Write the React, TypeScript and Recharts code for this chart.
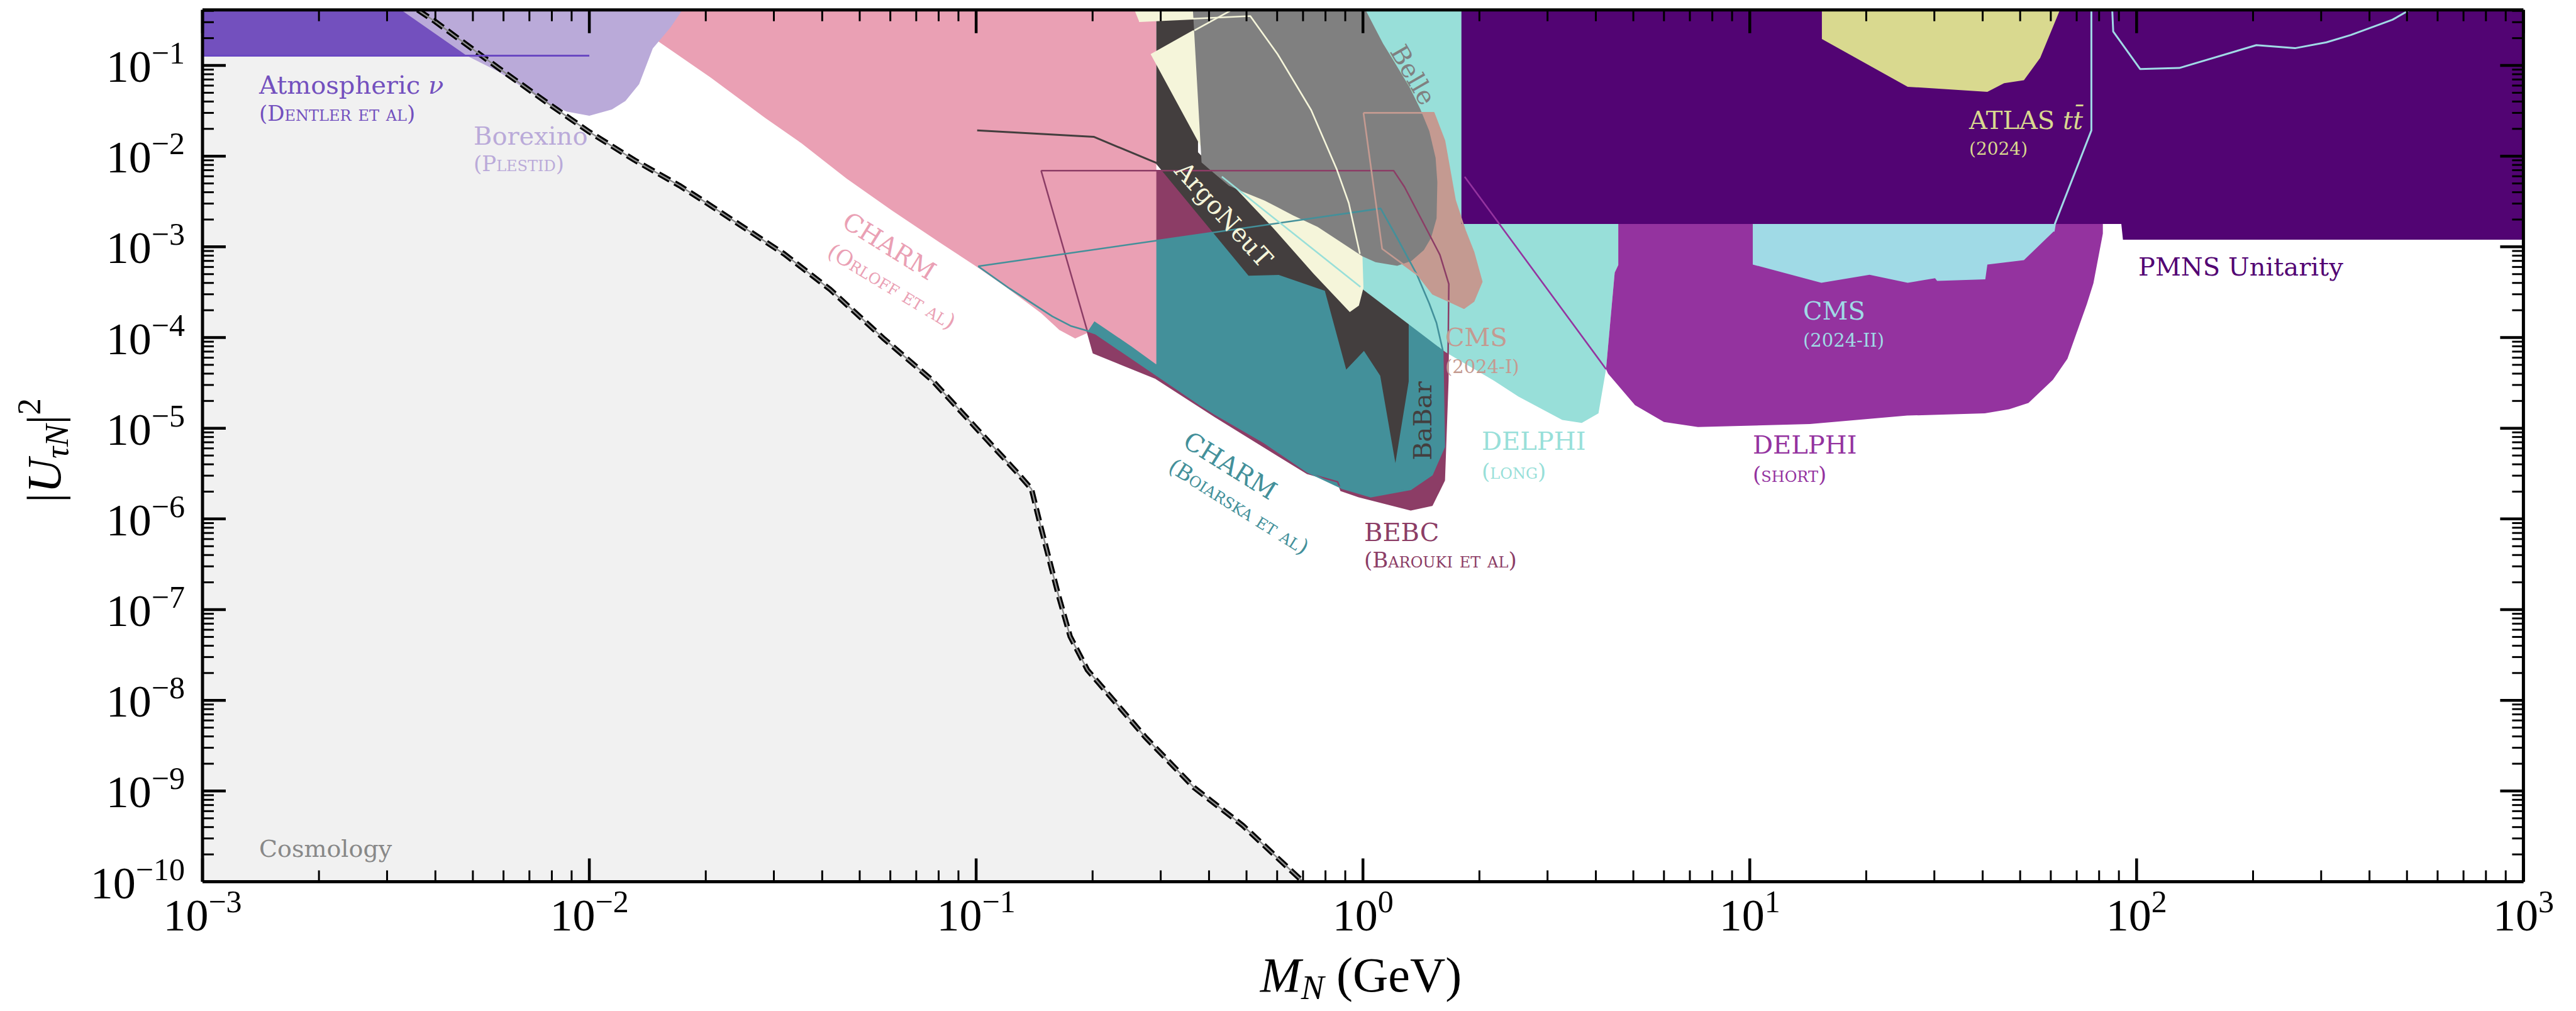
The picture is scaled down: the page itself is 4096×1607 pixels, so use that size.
import React from 'react';
import { ComposedChart, Scatter, XAxis, YAxis } from 'recharts';

// ---------------- data (M_N in GeV, |U_tauN|^2) ----------------
const cosmoCurveX = [0.0036, 0.00399, 0.00582, 0.00783, 0.01, 0.0131, 0.0171, 0.0196, 0.0319, 0.0419, 0.0575, 0.0769, 0.0968, 0.1274, 0.139, 0.147, 0.163, 0.175, 0.194, 0.274, 0.366, 0.489, 0.7];
const cosmoCurveY = [0.41, 0.306, 0.0938, 0.0381, 0.0185, 0.00902, 0.00474, 0.00327, 8.35e-4, 3.4e-4, 9.86e-5, 3.39e-5, 1.17e-5, 3.27e-6, 2.14e-6, 8.15e-7, 1.47e-7, 5.06e-8, 2.16e-8, 3.91e-9, 1.09e-9, 4.17e-10, 1.0e-10];

const atmX = [0.001, 0.0102, 0.0102, 0.001];
const atmY = [0.41, 0.41, 0.128, 0.128];
const atmLineX = [0.001, 0.01];
const atmLineY = [0.128, 0.128];

const borexX = [0.00326, 0.00482, 0.00582, 0.00762, 0.00873, 0.01, 0.01144, 0.0124, 0.01345, 0.01459, 0.01622, 0.0174];
const borexY = [0.41, 0.128, 0.0857, 0.0406, 0.031, 0.0279, 0.0327, 0.0406, 0.0622, 0.154, 0.263, 0.41];

const charmOX = [0.01085, 0.01477, 0.02059, 0.02845, 0.03532, 0.04628, 0.06056, 0.0802, 0.1009, 0.1202, 0.1472, 0.1641, 0.1803, 0.1927, 0.2022, 0.2528, 0.2914, 0.2923, 0.2923];
const charmOY = [0.41, 0.1954, 0.07345, 0.0265, 0.01391, 5.64e-3, 2.52e-3, 1.13e-3, 5.93e-4, 3.54e-4, 1.86e-4, 1.21e-4, 9.76e-5, 1.11e-4, 1.51e-4, 7.91e-5, 5.1e-5, 5.1e-5, 0.41];

const bebcX = [0.1472, 1.2, 1.28, 1.484, 1.581, 1.667, 1.657, 1.622, 1.508, 1.329, 0.976, 0.878, 0.86, 0.717, 0.4139, 0.2914, 0.201, 0.1943];
const bebcY = [6.93e-3, 6.93e-3, 4.59e-3, 1.374e-3, 8.16e-4, 3.89e-4, 3.33e-5, 2.67e-6, 1.416e-6, 1.262e-6, 1.763e-6, 2.058e-6, 2.564e-6, 3.19e-6, 1.352e-5, 3.56e-5, 6.78e-5, 1.135e-4];

const charmBX = [0.1012, 1.111, 1.226, 1.377, 1.484, 1.549, 1.607, 1.622, 1.508, 1.329, 1.046, 0.886, 0.717, 0.5565, 0.4139, 0.3791, 0.2034, 0.1943, 0.1754, 0.1574, 0.1219];
const charmBY = [6.11e-4, 2.65e-3, 1.253e-3, 5.0e-4, 2.37e-4, 1.449e-4, 7.35e-5, 6.24e-6, 3.07e-6, 2.126e-6, 1.763e-6, 2.17e-6, 3.32e-6, 6.92e-6, 1.44e-5, 1.82e-5, 1.107e-4, 1.184e-4, 1.346e-4, 1.714e-4, 3.48e-4];

const babarX = [0.2923, 0.2923, 0.506, 0.6056, 0.797, 0.905, 1.006, 1.108, 1.213, 1.313, 1.313, 1.046, 0.4317, 0.3746, 0.3746];
const babarY = [0.41, 8.2e-3, 4.81e-4, 4.9e-4, 3.27e-4, 4.43e-5, 7.13e-5, 3.79e-5, 4.13e-6, 3.29e-5, 1.449e-4, 3.4e-4, 5.94e-3, 0.01104, 0.41];
const babarLineX = [0.1006, 0.2013, 0.2977];
const babarLineY = [0.0192, 0.01634, 8.16e-3];

const delphiLX = [0.4317, 4.571, 4.571, 4.475, 4.25, 4.063, 3.678, 3.275, 2.521, 2.183, 1.637, 1.003, 0.4317];
const delphiLY = [0.41, 0.41, 6.3e-4, 5.2e-4, 4.49e-5, 1.462e-5, 1.143e-5, 1.236e-5, 2.236e-5, 3.33e-5, 6.86e-5, 3.35e-4, 5.94e-3];
const delphiLLineX = [0.4317, 0.985];
const delphiLLineY = [5.94e-3, 3.62e-4];

const argoX = [0.2825, 0.3634, 0.4628, 0.997, 1.003, 0.976, 0.9245, 0.745, 0.584, 0.4712, 0.3791];
const argoY = [0.1333, 0.2433, 0.2433, 7.95e-4, 3.53e-4, 2.25e-4, 1.914e-4, 5.06e-4, 1.637e-3, 4.31e-3, 0.01321];
const argoTopX = [0.2566, 0.5113, 0.5113, 0.3634, 0.2637];
const argoTopY = [0.41, 0.41, 0.3506, 0.327, 0.307];
const argoLineX = [0.2637, 0.5113, 0.6018, 0.7347, 0.855, 0.919, 0.982];
const argoLineY = [0.307, 0.3506, 0.1328, 0.0322, 7.21e-3, 3.04e-3, 8.38e-4];
const argoLine2X = [0.3667, 0.4531];
const argoLine2Y = [0.2433, 0.399];

const cms1X = [1.003, 1.524, 1.624, 1.73, 1.836, 1.932, 2.028, 1.932, 1.825, 1.687, 1.516, 1.392, 1.121];
const cms1Y = [0.03, 0.03, 0.01476, 3.26e-3, 1.515e-3, 8.7e-4, 4.13e-4, 2.52e-4, 2.11e-4, 2.46e-4, 3.03e-4, 4.82e-4, 9.52e-4];

const belleX = [0.3634, 0.3826, 0.4102, 0.4502, 0.4901, 0.5565, 0.659, 0.764, 0.849, 0.997, 1.078, 1.226, 1.335, 1.437, 1.4998, 1.55, 1.557, 1.541, 1.484, 1.407, 1.32, 1.2, 1.127, 1.069, 1.0153];
const belleY = [0.41, 8.52e-3, 6.59e-3, 4.71e-3, 4.04e-3, 3.24e-3, 2.23e-3, 1.658e-3, 1.233e-3, 7.85e-4, 6.77e-4, 6.17e-4, 6.99e-4, 9.21e-4, 1.253e-3, 2.064e-3, 5.18e-3, 9.57e-3, 0.01895, 0.033, 0.0574, 0.1129, 0.174, 0.2678, 0.41];

const delphiSX = [4.571, 81.8, 81.8, 77.33, 74.35, 66.25, 60.75, 52.54, 46.83, 40.51, 25.52, 14.3, 7.346, 6.0, 5.05, 4.3, 4.25, 4.475, 4.571];
const delphiSY = [2.0e-3, 2.0e-3, 1.4e-3, 3.96e-4, 2.335e-4, 5.84e-5, 3.42e-5, 1.9e-5, 1.62e-5, 1.462e-5, 1.378e-5, 1.114e-5, 1.031e-5, 1.173e-5, 1.796e-5, 4.01e-5, 4.49e-5, 5.2e-4, 6.3e-4];
const delphiSLineX = [1.832, 4.25];
const delphiSLineY = [5.93e-3, 4.49e-5];

const cms2X = [10.18, 61.47, 61.0, 51.13, 41.13, 40.63, 30.5, 30.13, 25.6, 20.4, 15.31, 10.18];
const cms2Y = [2.0e-3, 2.0e-3, 1.476e-3, 7.13e-4, 6.38e-4, 4.39e-4, 4.22e-4, 4.51e-4, 4.01e-4, 4.93e-4, 4.01e-4, 6.38e-4];
const cms2LineAX = [61.0, 61.47, 76.4, 76.4];
const cms2LineAY = [1.476e-3, 1.79e-3, 0.0192, 0.41];
const cms2LineBX = [86.5, 87.0, 102.1, 128.9, 204.0, 256.7, 309.6, 357.9, 458.5, 508.2];
const cms2LineBY = [0.41, 0.237, 0.0914, 0.0937, 0.1675, 0.155, 0.1798, 0.2168, 0.319, 0.41];

const pmnsX = [1.797, 1000, 1000, 92.2, 91.3, 1.797];
const pmnsY = [0.41, 0.41, 1.2e-3, 1.2e-3, 1.79e-3, 1.79e-3];

const atlasX = [15.36, 15.36, 25.6, 41.13, 45.44, 51.13, 56.33, 63.36];
const atlasY = [0.41, 0.1956, 0.0582, 0.0512, 0.0637, 0.0688, 0.1213, 0.41];

const xMajorTicks = [1e-3, 1e-2, 1e-1, 1, 10, 100, 1000];
const yMajorTicks = [1e-10, 1e-9, 1e-8, 1e-7, 1e-6, 1e-5, 1e-4, 1e-3, 1e-2, 1e-1];
const minorSteps = [2, 3, 4, 5, 6, 7, 8, 9];

// ---------------- styling ----------------
const C = {
  cosmo: '#f1f1f1',
  atm: '#7350be',
  atmLine: '#6a48c2',
  borex: '#baaad9',
  pink: '#eaa0b4',
  bebc: '#8c3d66',
  teal: '#43909a',
  babar: '#433e3e',
  turq: '#98dfd9',
  argo: '#f5f5da',
  cms1: '#c49a91',
  belle: '#808080',
  delphiS: '#94339f',
  cms2: '#a0dae6',
  pmns: '#520473',
  atlas: '#d9d98f',
};

const W = 4080;
const H = 1591;
const MARGIN = { top: 5.7, right: 73.6, bottom: 97.5, left: 214 };
const X_DOMAIN: [number, number] = [1e-3, 1e3];
const Y_DOMAIN: [number, number] = [1e-10, 0.41];
const TICK_FONT = '"Liberation Serif", "DejaVu Serif", serif';
const LABEL_FONT = '"DejaVu Serif", "Liberation Serif", serif';

const xTicks = xMajorTicks.flatMap((m) => [m, ...minorSteps.map((s) => s * m)]).filter((v) => v <= X_DOMAIN[1] * 1.0001);
const yTicks = yMajorTicks.flatMap((m) => [m, ...minorSteps.map((s) => s * m)]).filter((v) => v <= Y_DOMAIN[1]);

type Pt = { x: number; y: number };
const zip = (xs: number[], ys: number[], close = false): Pt[] => {
  const pts = xs.map((x, i) => ({ x, y: ys[i] }));
  if (close) pts.push({ ...pts[0] });
  return pts;
};

const fills = [
  { id: 'cosmo', pts: zip([0.001, ...cosmoCurveX, 0.001], [0.41, ...cosmoCurveY, 1e-10]), color: C.cosmo },
  { id: 'bebc', pts: zip(bebcX, bebcY), color: C.bebc },
  { id: 'charmB', pts: zip(charmBX, charmBY), color: C.teal },
  { id: 'charmO', pts: zip(charmOX, charmOY), color: C.pink },
  { id: 'atm', pts: zip(atmX, atmY), color: C.atm },
  { id: 'borex', pts: zip(borexX, borexY), color: C.borex },
  { id: 'babar', pts: zip(babarX, babarY), color: C.babar },
  { id: 'delphiL', pts: zip(delphiLX, delphiLY), color: C.turq },
  { id: 'argo', pts: zip(argoX, argoY), color: C.argo },
  { id: 'argoTop', pts: zip(argoTopX, argoTopY), color: C.argo },
  { id: 'cms1', pts: zip(cms1X, cms1Y), color: C.cms1 },
  { id: 'belle', pts: zip(belleX, belleY), color: C.belle },
  { id: 'delphiS', pts: zip(delphiSX, delphiSY), color: C.delphiS },
  { id: 'cms2', pts: zip(cms2X, cms2Y), color: C.cms2 },
  { id: 'pmns', pts: zip(pmnsX, pmnsY), color: C.pmns },
  { id: 'atlas', pts: zip(atlasX, atlasY), color: C.atlas },
];

const lines = [
  { id: 'cosmoDash', pts: zip(cosmoCurveX, cosmoCurveY), color: '#000', w: 8.5, dash: '20 9' },
  { id: 'cosmoCore', pts: zip(cosmoCurveX, cosmoCurveY), color: '#8c8c8c', w: 2.4 },
  { id: 'atmLine', pts: zip(atmLineX, atmLineY), color: C.atmLine, w: 3 },
  { id: 'babarLine', pts: zip(babarLineX, babarLineY), color: C.babar, w: 3 },
  { id: 'bebcLine', pts: zip(bebcX, bebcY, true), color: C.bebc, w: 2.5 },
  { id: 'charmBLine', pts: zip(charmBX, charmBY, true), color: C.teal, w: 2.6 },
  { id: 'argoLine', pts: zip(argoLineX, argoLineY), color: C.argo, w: 2.6 },
  { id: 'argoLine2', pts: zip(argoLine2X, argoLine2Y), color: C.argo, w: 2.6 },
  { id: 'delphiLLine', pts: zip(delphiLLineX, delphiLLineY), color: C.turq, w: 2.6 },
  { id: 'cms1Line', pts: zip(cms1X, cms1Y, true), color: C.cms1, w: 2.6 },
  { id: 'delphiSLine', pts: zip(delphiSLineX, delphiSLineY), color: C.delphiS, w: 2.6 },
  { id: 'cms2LineA', pts: zip(cms2LineAX, cms2LineAY), color: C.cms2, w: 3 },
  { id: 'cms2LineB', pts: zip(cms2LineBX, cms2LineBY), color: C.cms2, w: 3 },
];

const NoDot = () => <g />;

const isMajor = (v: number) => Math.abs(Math.log10(v) - Math.round(Math.log10(v))) < 1e-6;
const expText = (v: number) => {
  const e = Math.round(Math.log10(v));
  return e < 0 ? '\u2212' + Math.abs(e) : String(e);
};

const MAJ = 37;
const MIN = 18;

const BottomTick = (p: any) => {
  const { x, y, payload } = p;
  const major = isMajor(payload.value);
  return (
    <g>
      <line x1={x} y1={y} x2={x} y2={y - (major ? MAJ : MIN)} stroke="#000" strokeWidth={major ? 4.5 : 3} />
      {major && (
        <text x={x} y={y + 77} textAnchor="middle" fontFamily={TICK_FONT} fontSize={72} fill="#000">
          10
          <tspan dy={-29} fontSize={50}>
            {expText(payload.value)}
          </tspan>
        </text>
      )}
    </g>
  );
};

const TopTick = (p: any) => {
  const { x, y, payload } = p;
  const major = isMajor(payload.value);
  return <line x1={x} y1={y} x2={x} y2={y + (major ? MAJ : MIN)} stroke="#000" strokeWidth={major ? 4.5 : 3} />;
};

const LeftTick = (p: any) => {
  const { x, y, payload } = p;
  const major = isMajor(payload.value);
  return (
    <g>
      <line x1={x} y1={y} x2={x + (major ? MAJ : MIN)} y2={y} stroke="#000" strokeWidth={major ? 4.5 : 3} />
      {major && (
        <text x={x - 28} y={y + 26} textAnchor="end" fontFamily={TICK_FONT} fontSize={72} fill="#000">
          10
          <tspan dy={-29} fontSize={50}>
            {expText(payload.value)}
          </tspan>
        </text>
      )}
    </g>
  );
};

const RightTick = (p: any) => {
  const { x, y, payload } = p;
  const major = isMajor(payload.value);
  return <line x1={x} y1={y} x2={x - (major ? MAJ : MIN)} y2={y} stroke="#000" strokeWidth={major ? 4.5 : 3} />;
};

const sc: React.CSSProperties = { fontVariant: 'small-caps' };

function Labels() {
  const L = (props: any) => <text fontFamily={LABEL_FONT} dominantBaseline="central" {...props} />;
  const R = (x: number, y: number, a: number) => `rotate(${a} ${x} ${y})`;
  return (
    <svg width={W} height={H} style={{ position: 'absolute', left: 0, top: 0, pointerEvents: 'none' }}>
      <L x={404} y={127} fontSize={40} fill={C.atm}>
        Atmospheric <tspan fontStyle="italic">ν</tspan>
      </L>
      <L x={404} y={172} fontSize={34} fill={C.atm} style={sc}>(Dentler et al)</L>
      <L x={745} y={208} fontSize={40} fill={C.borex}>Borexino</L>
      <L x={745} y={252} fontSize={34} fill={C.borex} style={sc}>(Plestid)</L>

      <L x={1406} y={383} fontSize={40} fill={C.pink} textAnchor="middle" transform={R(1406, 383, 32)}>CHARM</L>
      <L x={1410} y={447} fontSize={34} fill={C.pink} textAnchor="middle" transform={R(1410, 447, 31)} style={sc}>(Orloff et al)</L>

      <L x={1948} y={732} fontSize={40} fill={C.teal} textAnchor="middle" transform={R(1948, 732, 32)}>CHARM</L>
      <L x={1962} y={797} fontSize={34} fill={C.teal} textAnchor="middle" transform={R(1962, 797, 32)} style={sc}>(Boiarska et al)</L>

      <L x={1938} y={333} fontSize={40} fill={C.argo} textAnchor="middle" transform={R(1938, 333, 48)}>ArgoNeuT</L>
      <L x={2239} y={111} fontSize={40} fill={C.belle} textAnchor="middle" transform={R(2239, 111, 60)}>Belle</L>
      <L x={2254} y={661} fontSize={40} fill={C.babar} textAnchor="middle" transform={R(2254, 661, -90)}>BaBar</L>

      <L x={2290} y={528} fontSize={40} fill={C.cms1}>CMS</L>
      <L x={2290} y={575} fontSize={29} fill={C.cms1}>(2024-I)</L>

      <L x={2348} y={693} fontSize={40} fill={C.turq}>DELPHI</L>
      <L x={2348} y={741} fontSize={34} fill={C.turq} style={sc}>(long)</L>

      <L x={2779} y={699} fontSize={40} fill={C.delphiS}>DELPHI</L>
      <L x={2779} y={746} fontSize={34} fill={C.delphiS} style={sc}>(short)</L>

      <L x={2859} y={486} fontSize={40} fill={C.cms2}>CMS</L>
      <L x={2859} y={533} fontSize={29} fill={C.cms2}>(2024-II)</L>

      <L x={3123} y={183} fontSize={40} fill={C.atlas}>
        ATLAS <tspan fontStyle="italic">t{'t\u0304'}</tspan>
      </L>
      <L x={3123} y={228} fontSize={28} fill={C.atlas}>(2024)</L>

      <L x={3392} y={416} fontSize={40} fill={C.pmns}>PMNS Unitarity</L>

      <L x={2161} y={838} fontSize={40} fill={C.bebc}>BEBC</L>
      <L x={2161} y={882} fontSize={34} fill={C.bebc} style={sc}>(Barouki et al)</L>

      <L x={404} y={1341} fontSize={38} fill="#888888">Cosmology</L>

      {/* axis titles */}
      <text x={2156} y={1568} textAnchor="middle" fontFamily={TICK_FONT} fontSize={78} fill="#000">
        <tspan fontStyle="italic">M</tspan>
        <tspan fontStyle="italic" fontSize={55} dy={12}>N</tspan>
        <tspan dy={-12}> (GeV)</tspan>
      </text>
      <g transform="translate(88 708) rotate(-90)">
        <text x={0} y={0} textAnchor="middle" fontFamily={TICK_FONT} fontSize={76} fill="#000">
          |<tspan fontStyle="italic">U</tspan>
          <tspan fontStyle="italic" fontSize={53} dy={12}>τN</tspan>
          <tspan dy={-12}>|</tspan>
          <tspan fontSize={53} dy={-32}>2</tspan>
        </text>
      </g>
    </svg>
  );
}

export default function App() {
  return (
    <div style={{ position: 'relative', width: W, height: H }}>
      <ComposedChart width={W} height={H} margin={MARGIN}>
        {fills.map((f) => (
          <Scatter
            key={f.id}
            name={f.id}
            data={f.pts}
            shape={NoDot}
            line={{ fill: f.color, stroke: 'none' }}
            lineType="joint"
            lineJointType="linear"
            legendType="none"
            isAnimationActive={false}
          />
        ))}
        {lines.map((l) => (
          <Scatter
            key={l.id}
            name={l.id}
            data={l.pts}
            shape={NoDot}
            line={{ fill: 'none', stroke: l.color, strokeWidth: l.w, strokeDasharray: (l as any).dash, strokeLinejoin: 'round' }}
            lineType="joint"
            lineJointType="linear"
            legendType="none"
            isAnimationActive={false}
          />
        ))}
        <XAxis
          dataKey="x"
          type="number"
          scale="log"
          domain={X_DOMAIN}
          allowDataOverflow
          ticks={xTicks}
          interval={0}
          height={100}
          tickSize={0}
          tickMargin={0}
          tickLine={false}
          tick={BottomTick}
          axisLine={{ stroke: '#000', strokeWidth: 5 }}
          zIndex={3000}
        />
        <XAxis
          xAxisId="top"
          orientation="top"
          dataKey="x"
          type="number"
          scale="log"
          domain={X_DOMAIN}
          allowDataOverflow
          ticks={xTicks}
          interval={0}
          height={2}
          tickSize={0}
          tickMargin={0}
          tickLine={false}
          tick={TopTick}
          axisLine={{ stroke: '#000', strokeWidth: 5 }}
          zIndex={3000}
        />
        <YAxis
          dataKey="y"
          type="number"
          scale="log"
          domain={Y_DOMAIN}
          allowDataOverflow
          ticks={yTicks}
          interval={0}
          width={100}
          tickSize={0}
          tickMargin={0}
          tickLine={false}
          tick={LeftTick}
          axisLine={{ stroke: '#000', strokeWidth: 5 }}
          zIndex={3000}
        />
        <YAxis
          yAxisId="right"
          orientation="right"
          dataKey="y"
          type="number"
          scale="log"
          domain={Y_DOMAIN}
          allowDataOverflow
          ticks={yTicks}
          interval={0}
          width={2}
          tickSize={0}
          tickMargin={0}
          tickLine={false}
          tick={RightTick}
          axisLine={{ stroke: '#000', strokeWidth: 5 }}
          zIndex={3000}
        />
      </ComposedChart>
      <Labels />
    </div>
  );
}
